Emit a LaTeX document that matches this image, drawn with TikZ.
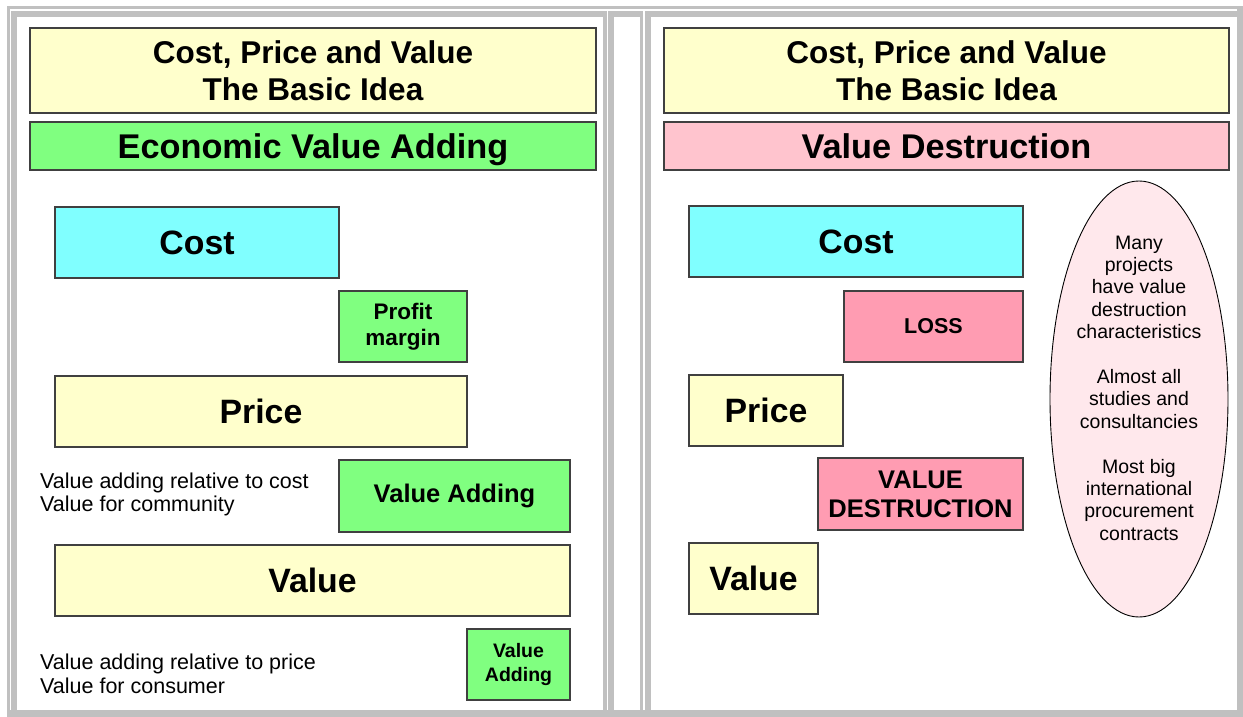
\documentclass[tikz,border=0pt]{standalone}
\usepackage{fontspec}
\setmainfont{Liberation Sans}
\usetikzlibrary{shapes.geometric}
\definecolor{framegray}{HTML}{C0C0C0}
\definecolor{boxyellow}{HTML}{FFFFCC}
\definecolor{boxgreen}{HTML}{80FF80}
\definecolor{boxcyan}{HTML}{80FFFF}
\definecolor{headpink}{HTML}{FFC4CE}
\definecolor{losspink}{HTML}{FF9CB2}
\definecolor{ellpink}{HTML}{FFE8EC}
\definecolor{edgegray}{HTML}{404040}
\newcommand{\nodepth}[1]{\raisebox{0pt}[\height][0pt]{#1}}
\tikzset{
  box/.style={draw=edgegray, line width=1.3pt, inner sep=0pt, outer sep=0pt, align=center, text=black},
  titlefont/.style={font=\fontsize{31.5}{37}\selectfont\bfseries},
  headfont/.style={font=\fontsize{34.3}{38}\selectfont\bfseries},
  bigfont/.style={font=\fontsize{33.8}{38}\selectfont\bfseries},
  midfont/.style={font=\fontsize{25.5}{29}\selectfont\bfseries},
  smallbold/.style={font=\fontsize{22.5}{26}\selectfont\bfseries},
  tinybold/.style={font=\fontsize{19.5}{23.5}\selectfont\bfseries},
  plain/.style={font=\fontsize{21.5}{23.5}\selectfont, align=left, inner sep=0pt, anchor=west},
  elltext/.style={font=\fontsize{19.5}{22.4}\selectfont, align=center, inner sep=0pt}
}
\begin{document}
\begin{tikzpicture}[x=1pt, y=-1pt]
\useasboundingbox (0,0) rectangle (1243,717);
% frame
\fill[white] (0,0) rectangle (1243,717);
\fill[framegray] (7,6) rectangle (1243,717);
\fill[white] (10,9) rectangle (1237,710);
\fill[framegray] (11,11) rectangle (607,710);
\fill[white] (17,17) rectangle (603,710);
\fill[framegray] (608,11) rectangle (643,710);
\fill[white] (614,17) rectangle (640,710);
\fill[framegray] (645,11) rectangle (1237,710);
\fill[white] (651,17) rectangle (1237,710);

% ---------------- left panel
\node[box, titlefont, fill=boxyellow, minimum width=566pt, minimum height=85pt] (ltitle) at (313,70.5) {Cost, Price and Value\\The Basic Idea};
\node[box, headfont, fill=boxgreen, minimum width=566pt, minimum height=48pt] (lhead) at (313,146) {\nodepth{Economic Value Adding}};
\node[box, bigfont, fill=boxcyan, minimum width=284pt, minimum height=71pt] (lcost) at (197,242.5) {Cost};
\node[box, smallbold, fill=boxgreen, minimum width=128pt, minimum height=71pt] (lprofit) at (403,326.5) {Profit\\margin};
\node[box, bigfont, fill=boxyellow, minimum width=412pt, minimum height=71pt] (lprice) at (261,411.5) {Price};
\node[box, midfont, fill=boxgreen, minimum width=231pt, minimum height=72pt] (ladd1) at (454.5,496) {Value Adding};
\node[plain] (ltext1) at (40,494.5) {Value adding relative to cost\\Value for community};
\node[box, bigfont, fill=boxyellow, minimum width=515pt, minimum height=71pt] (lvalue) at (312.5,580.5) {Value};
\node[box, tinybold, fill=boxgreen, minimum width=103pt, minimum height=71pt] (ladd2) at (518.5,664.5) {Value\\Adding};
\node[plain] (ltext2) at (40,674) {Value adding relative to price\\Value for consumer};

% ---------------- right panel
\node[box, titlefont, fill=boxyellow, minimum width=565pt, minimum height=85pt] (rtitle) at (946.5,70.5) {Cost, Price and Value\\The Basic Idea};
\node[box, headfont, fill=headpink, minimum width=565pt, minimum height=48pt] (rhead) at (946.5,146) {\nodepth{Value Destruction}};
\node[box, bigfont, fill=boxcyan, minimum width=334pt, minimum height=71pt] (rcost) at (856,241.5) {Cost};
\node[box, font=\fontsize{21.5}{25}\selectfont\bfseries, fill=losspink, minimum width=179pt, minimum height=71pt] (rloss) at (933.5,326.5) {LOSS};
\node[box, bigfont, fill=boxyellow, minimum width=154pt, minimum height=71pt] (rprice) at (766,410.5) {Price};
\node[box, midfont, fill=losspink, minimum width=205pt, minimum height=72pt] (rdest) at (920.5,494) {VALUE\\DESTRUCTION};
\node[box, bigfont, fill=boxyellow, minimum width=129pt, minimum height=71pt] (rvalue) at (753.5,578.5) {Value};
\node[ellipse, draw=black, line width=0.9pt, fill=ellpink, minimum width=178pt, minimum height=436pt, inner sep=0pt] (ell) at (1139,399) {};
\node[elltext] (ellt) at (1139,388) {Many\\projects\\have value\\destruction\\characteristics\\[22.4pt]Almost all\\studies and\\consultancies\\[22.4pt]Most big\\international\\procurement\\contracts};
\end{tikzpicture}
\end{document}
